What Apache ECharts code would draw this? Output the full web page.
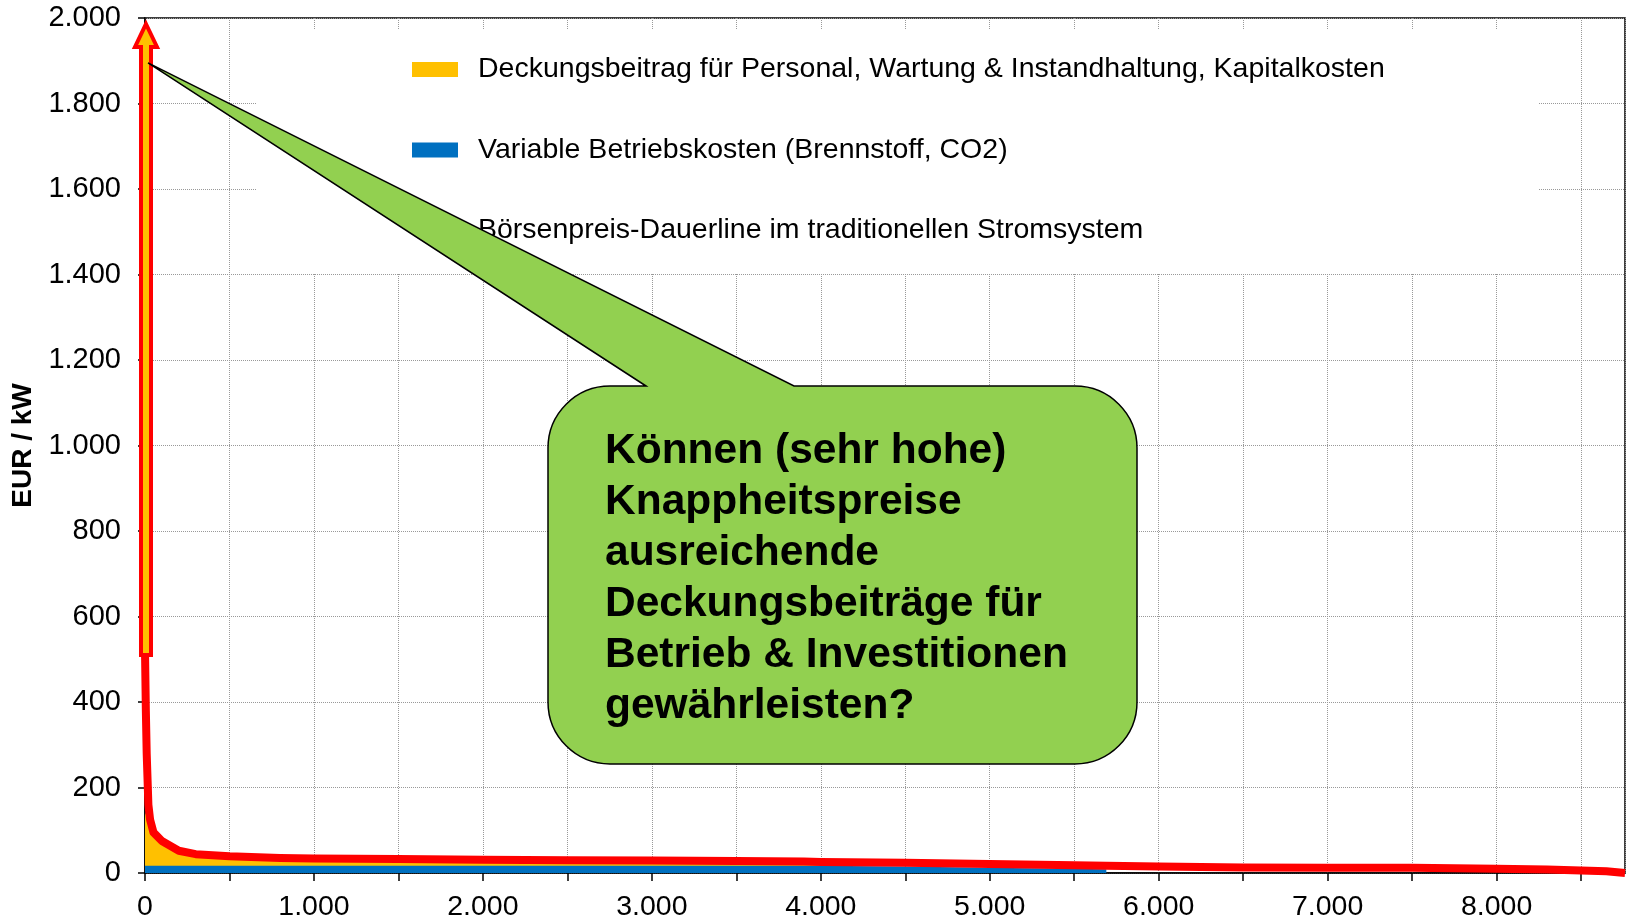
<!DOCTYPE html>
<html>
<head>
<meta charset="utf-8">
<script src="https://cdn.jsdelivr.net/npm/echarts@6.0.0/dist/echarts.min.js"></script>
<style>
  html, body { margin: 0; padding: 0; background: #fff; }
  #main { width: 1627px; height: 921px; }
</style>
</head>
<body>
<div id="main"></div>
<script>
// Stunden im Jahr (sortiert nach Preis)
var hours = [0, 5, 10, 20, 30, 50, 100, 200, 300, 500, 800, 1000, 1500, 2000, 2500, 3000, 3500, 3900, 4000, 4500, 5000, 5500, 5690, 6000, 6500, 7000, 7500, 8000, 8300, 8500, 8650, 8760];
// Börsenpreis-Dauerlinie
var price = [520, 380, 280, 160, 125, 95, 75, 52, 44, 39, 35, 34, 33, 31, 30, 29, 28, 27, 26, 24, 21, 18, 17, 15, 13, 12, 12, 10, 8, 6, 4, 0];
// Oberkante Deckungsbeitrag (gelb)
var contributionTop = [142, 137, 132, 122, 112, 92, 72, 47, 39, 34, 31, 30, 29, 28, 27, 26, 25, 24, 17, '-', '-', '-', '-', '-', '-', '-', '-', '-', '-', '-', '-', '-'];
// variable Betriebskosten (blau)
var variableCost = [17, 17, 17, 17, 17, 17, 17, 17, 17, 17, 17, 17, 17, 17, 17, 17, 17, 17, 17, 15, 12, 10, 9, '-', '-', '-', '-', '-', '-', '-', '-', '-'];

var names = [
  "Deckungsbeitrag für Personal, Wartung & Instandhaltung, Kapitalkosten",
  "Variable Betriebskosten (Brennstoff, CO2)",
  "Börsenpreis-Dauerline im traditionellen Stromsystem"
];
var calloutLines = [
  "Können (sehr hohe)",
  "Knappheitspreise",
  "ausreichende",
  "Deckungsbeiträge für",
  "Betrieb & Investitionen",
  "gewährleisten?"
];

var font = '"Liberation Sans", Arial, sans-serif';

function de(v) {
  return String(v).replace(/\B(?=(\d{3})+(?!\d))/g, ".");
}
function pairs(arr) {
  return hours.map(function (h, i) { return [h, arr[i]]; });
}

// Sprechblase: abgerundetes Rechteck mit Spitze
echarts.graphic.registerShape("callout", echarts.graphic.extendShape({
  shape: { x0: 0, y0: 0, x1: 0, y1: 0, r: 0, p0: 0, p1: 0, tx: 0, ty: 0 },
  buildPath: function (ctx, s) {
    ctx.moveTo(s.p0, s.y0);
    ctx.lineTo(s.tx, s.ty);
    ctx.lineTo(s.p1, s.y0);
    ctx.lineTo(s.x1 - s.r, s.y0);
    ctx.arc(s.x1 - s.r, s.y0 + s.r, s.r, -Math.PI / 2, 0, false);
    ctx.lineTo(s.x1, s.y1 - s.r);
    ctx.arc(s.x1 - s.r, s.y1 - s.r, s.r, 0, Math.PI / 2, false);
    ctx.lineTo(s.x0 + s.r, s.y1);
    ctx.arc(s.x0 + s.r, s.y1 - s.r, s.r, Math.PI / 2, Math.PI, false);
    ctx.lineTo(s.x0, s.y0 + s.r);
    ctx.arc(s.x0 + s.r, s.y0 + s.r, s.r, Math.PI, Math.PI * 1.5, false);
    ctx.closePath();
  }
}));

var mychart = echarts.init(document.getElementById("main"));

var option = {
  animation: false,
  grid: {
    left: 145, right: 2, top: 18, bottom: 48,
    outerBoundsMode: "none",
    containLabel: false,
    show: true, borderColor: "#000", borderWidth: 1.5, backgroundColor: "transparent"
  },
  legend: {
    orient: "vertical",
    left: 257, top: 30,
    padding: [25, 154, 28, 155],
    backgroundColor: "#fff",
    itemWidth: 46, itemHeight: 15, itemGap: 51.5,
    data: [
      { name: names[0], icon: "rect" },
      { name: names[1], icon: "rect" },
      { name: names[2], icon: "none" } // liegt unter der Sprechblase
    ],
    textStyle: { fontFamily: font, fontSize: 28.5, color: "#000", lineHeight: 28, padding: [0, 0, 0, 15] }
  },
  xAxis: {
    type: "value", min: 0, max: 8760, interval: 500,
    axisLine: { lineStyle: { color: "#000", width: 1.5 } },
    axisTick: { show: true, length: 8, lineStyle: { color: "#000", width: 1.5 } },
    axisLabel: {
      margin: 20, fontFamily: font, fontSize: 28.5, color: "#000", showMaxLabel: false,
      formatter: function (v) { return v % 1000 === 0 ? de(v) : ""; }
    },
    splitLine: { show: true, lineStyle: { color: "#999", type: "dotted", width: 1 } }
  },
  yAxis: {
    type: "value", min: 0, max: 2000, interval: 200,
    name: "EUR / kW", nameLocation: "middle", nameGap: 103, nameRotate: 90,
    nameTextStyle: { fontFamily: font, fontSize: 28, fontWeight: "bold", color: "#000" },
    axisLine: { show: true, lineStyle: { color: "#000", width: 1.5 } },
    axisTick: { show: true, length: 7, lineStyle: { color: "#000", width: 1.5 } },
    axisLabel: { margin: 24, fontFamily: font, fontSize: 29, color: "#000", formatter: de },
    splitLine: { show: true, lineStyle: { color: "#999", type: "dotted", width: 1 } }
  },
  series: [
    {
      name: names[0], type: "line", data: pairs(contributionTop),
      showSymbol: false, symbol: "none", z: 2,
      itemStyle: { color: "#FFC000" },
      lineStyle: { width: 0 },
      areaStyle: { color: "#FFC000", opacity: 1 }
    },
    {
      name: names[1], type: "line", data: pairs(variableCost),
      showSymbol: false, symbol: "none", z: 2,
      itemStyle: { color: "#0070C0" },
      lineStyle: { width: 0 },
      areaStyle: { color: "#0070C0", opacity: 1 }
    },
    {
      name: names[2], type: "line", data: pairs(price),
      showSymbol: false, symbol: "none", z: 3,
      itemStyle: { color: "#FF0000" },
      lineStyle: { color: "#FF0000", width: 8, join: "round" }
    }
  ]
};

mychart.setOption(option);

// Pfeil und Sprechblase an Datenkoordinaten verankern
var base = mychart.convertToPixel({ gridIndex: 0 }, [0, 510]);
var top2000 = mychart.convertToPixel({ gridIndex: 0 }, [0, 2000]);
var cx = base[0] + 1;
var yb = base[1];
var yt = top2000[1] + 6;
var arrowPts = [
  [cx, yt], [cx + 11, yt + 23], [cx + 5, yt + 23], [cx + 5, yb],
  [cx - 5, yb], [cx - 5, yt + 23], [cx - 11, yt + 23]
];

var tip = mychart.convertToPixel({ gridIndex: 0 }, [18, 1895]);

mychart.setOption({
  graphic: [
    {
      type: "polygon", z: 100,
      shape: { points: arrowPts },
      style: { fill: "#FFC000", stroke: "#FF0000", lineWidth: 4, lineJoin: "miter" }
    },
    {
      type: "callout", z: 101,
      shape: { x0: 548, y0: 386, x1: 1137, y1: 764, r: 62, p0: 646, p1: 794, tx: tip[0], ty: tip[1] },
      style: { fill: "#92D050", stroke: "#000", lineWidth: 1.5 }
    },
    {
      type: "text", z: 102, x: 605, y: 426,
      style: {
        text: calloutLines.join("\n"),
        font: "bold 42.5px " + font,
        fill: "#000",
        lineHeight: 51,
        verticalAlign: "top"
      }
    }
  ]
});
</script>
</body>
</html>
